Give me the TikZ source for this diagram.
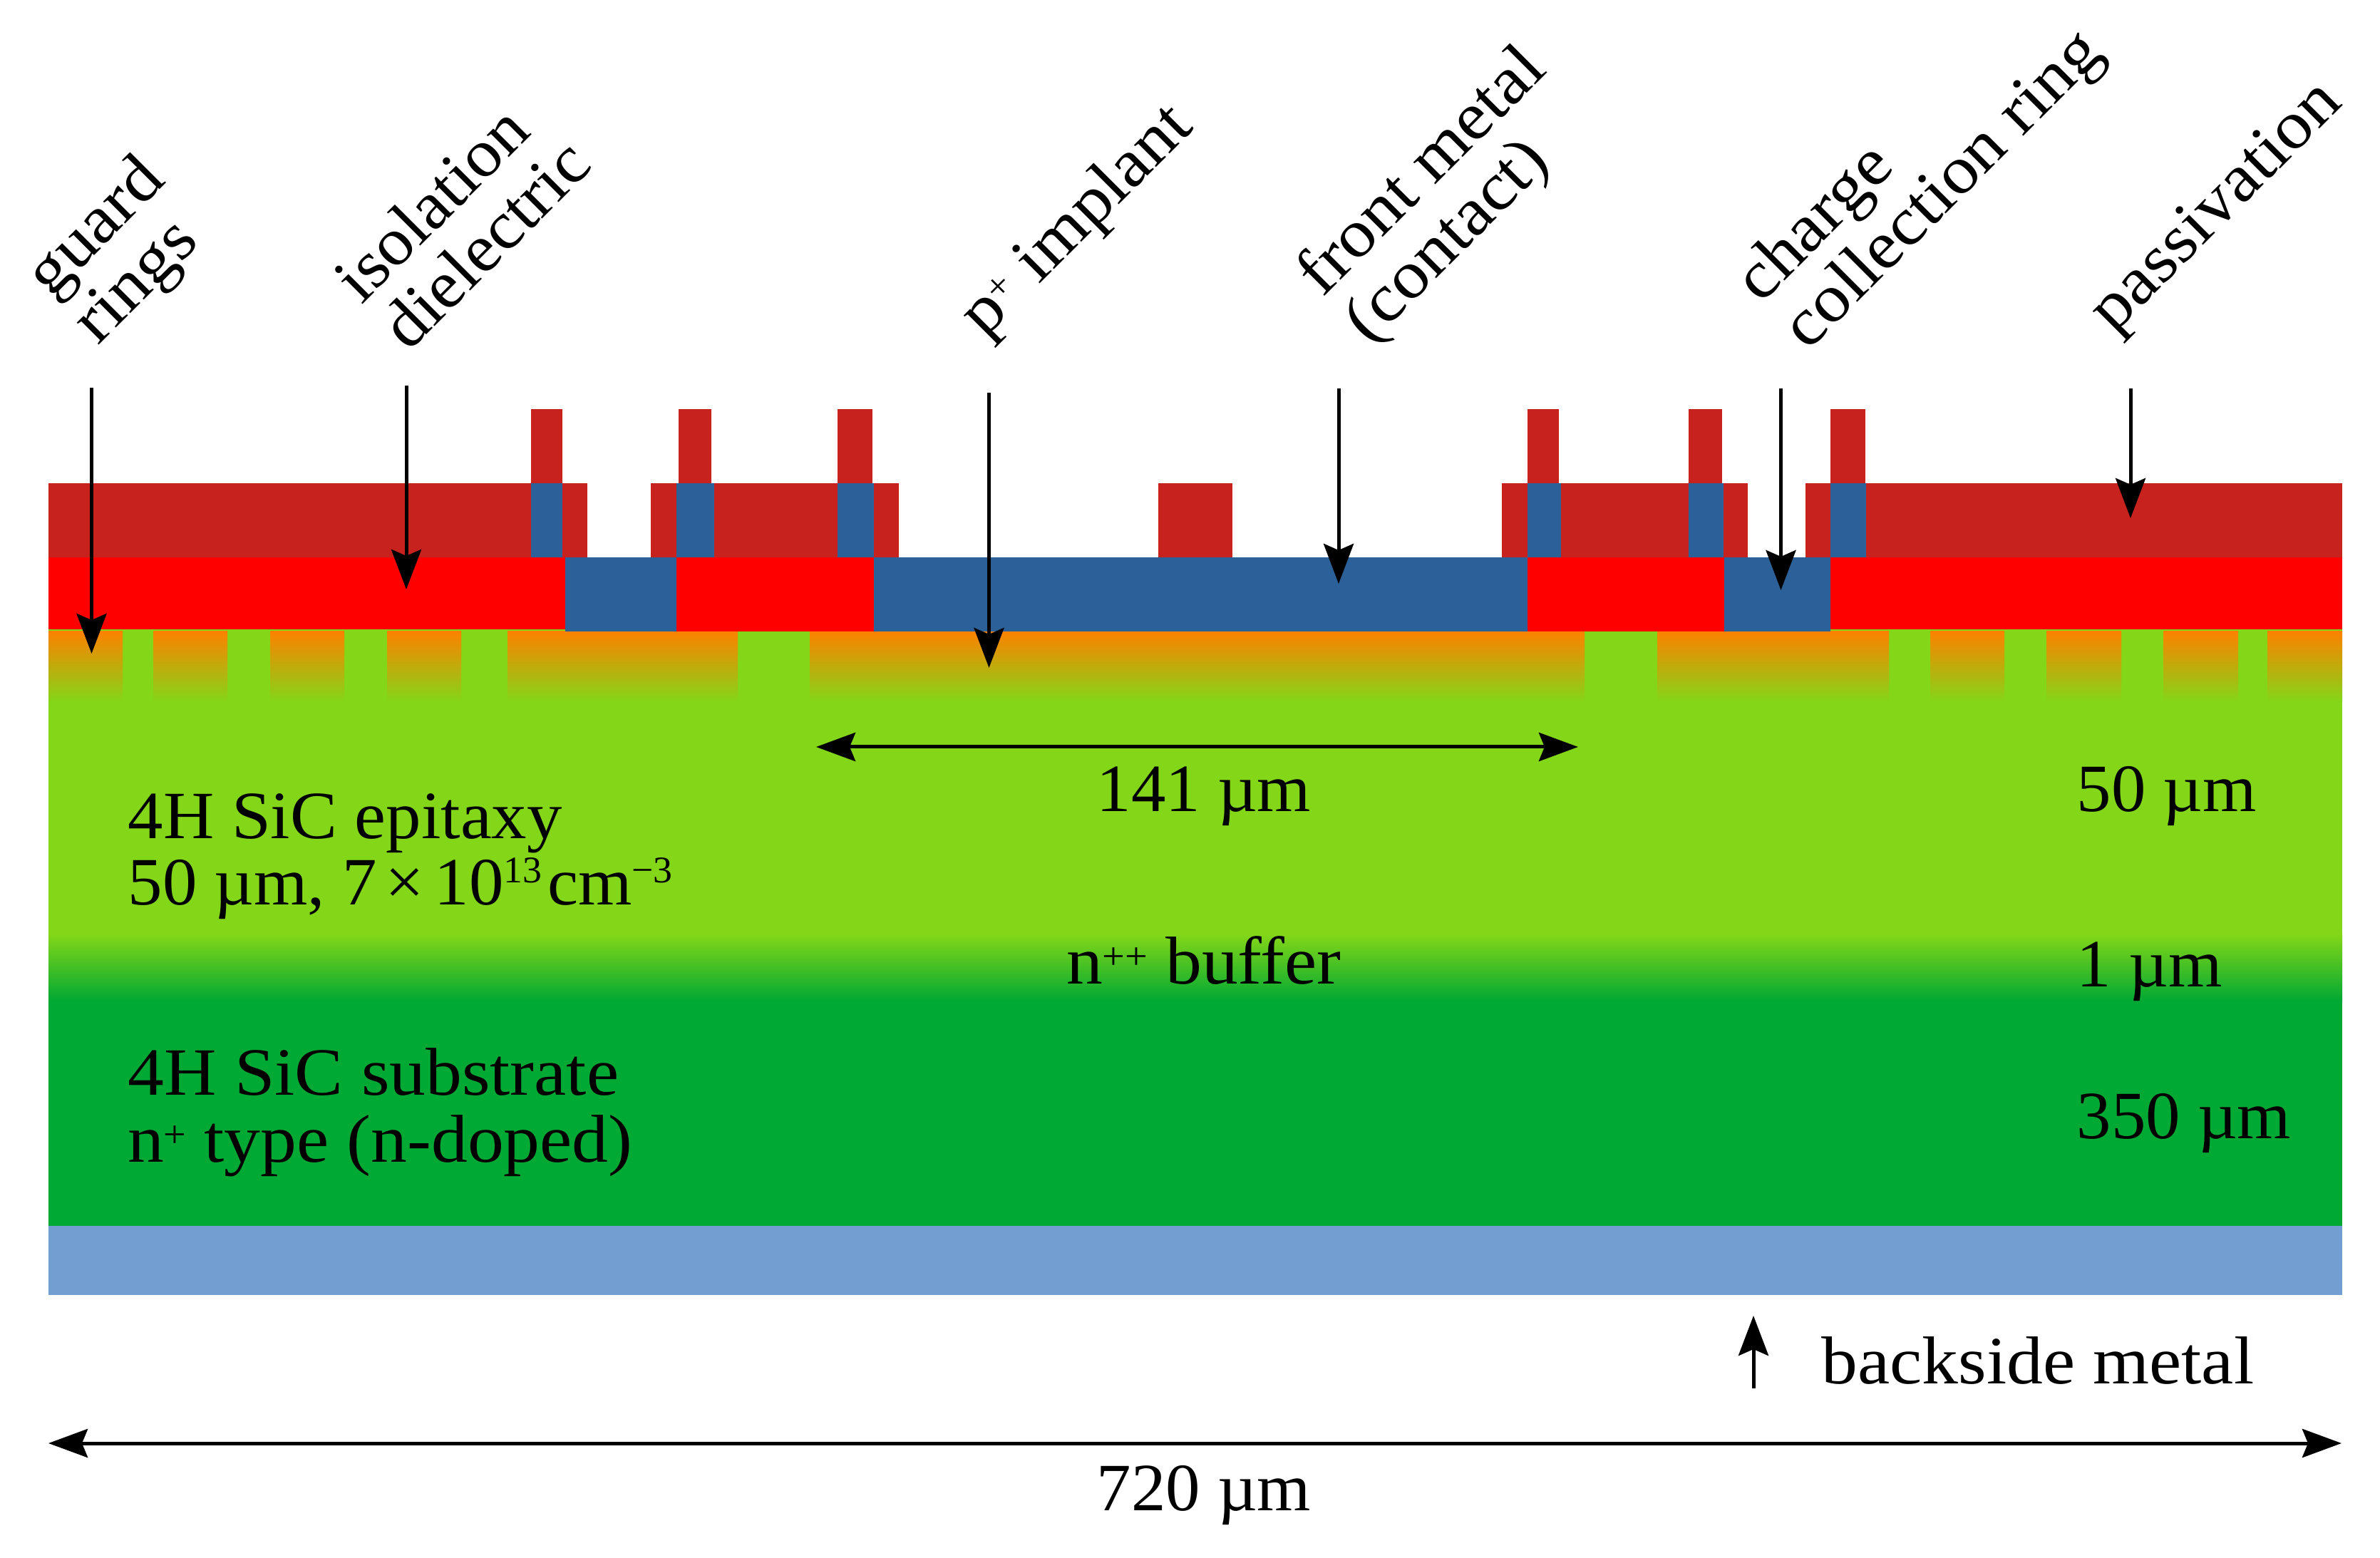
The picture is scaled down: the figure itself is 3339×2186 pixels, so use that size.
\documentclass[tikz,border=0pt]{standalone}
\usepackage{fontspec}
\setmainfont{Liberation Serif}[FakeStretch=1.07]
\newfontfamily\tightf{Liberation Serif}[FakeStretch=1.02]
\newfontfamily\midf{Liberation Serif}[FakeStretch=1.04]
\newcommand\mysup[1]{\raisebox{0.33em}{\fontsize{15}{15}\selectfont #1}}
\newcommand\myplus[1]{\raisebox{0.22em}{\fontsize{15}{15}\selectfont\kern-0.02em #1}}
\usetikzlibrary{arrows.meta}
\definecolor{lgreen}{RGB}{131,214,24}
\definecolor{dgreen}{RGB}{0,168,52}
\definecolor{mblue}{RGB}{43,96,152}
\definecolor{dred}{RGB}{200,34,30}
\definecolor{pred}{RGB}{255,0,0}
\definecolor{bmetal}{RGB}{114,158,209}
\definecolor{orng}{RGB}{252,130,0}
\tikzset{
  x=0.01cm,y=-0.01cm,
  lbl/.style={font=\fontsize{27}{26.7}\selectfont,inner sep=0pt,text=black,align=left},
  rlbl/.style={lbl,rotate=45,anchor=base west},
  hlbl/.style={lbl,anchor=base west},
  clbl/.style={lbl,anchor=base},
  pointer/.style={line width=0.05cm,-{Stealth[length=0.56cm,width=0.42cm,inset=0.09cm]}},
  span/.style={line width=0.05cm,{Stealth[length=0.55cm,width=0.40cm,inset=0.08cm]}-{Stealth[length=0.55cm,width=0.40cm,inset=0.08cm]}},
  implant/.style={top color=orng,bottom color=lgreen,draw=none}
}
\begin{document}
\begin{tikzpicture}
\useasboundingbox (0,0) rectangle (3339,2186);
% bulk layers
\fill[lgreen] (68,883) rectangle (3286,1312);
\shade[top color=lgreen,bottom color=dgreen] (68,1311) rectangle (3286,1405);
\fill[dgreen] (68,1404) rectangle (3286,1721);
\fill[bmetal] (68,1720) rectangle (3286,1817);
% implants
\foreach \a/\b in {68/172,215/319,379/483,543/647,712/1035,1136/2223,2325/2650,2708/2812,2871/2976,3035/3140,3181/3286}
  \shade[implant] (\a,886) rectangle (\b,985);
% isolation + front metal row
\fill[pred] (68,782) rectangle (793,883);
\fill[mblue] (793,782) rectangle (949,886);
\fill[pred] (949,782) rectangle (1226,886);
\fill[mblue] (1226,782) rectangle (2143,886);
\fill[pred] (2143,782) rectangle (2419,886);
\fill[mblue] (2419,782) rectangle (2568,886);
\fill[pred] (2568,782) rectangle (3286,883);
% passivation
\foreach \a/\b in {68/824,913/1261,1625/1729,2107/2452,2533/3286}
  \fill[dred] (\a,678) rectangle (\b,782);
% pillars
\foreach \a/\b in {745/789,952/998,1175/1224,2143/2187,2369/2416,2568/2617}
  \fill[dred] (\a,574) rectangle (\b,678);
% contact vias
\foreach \a/\b in {745/789,949/1002,1175/1226,2143/2190,2369/2418,2568/2618}
  \fill[mblue] (\a,678) rectangle (\b,782);
% labels
\node[rlbl] (guard) at (137,486) {guard\\rings};
\node[rlbl] (iso) at (573,495) {\midf isolation\\\midf dielectric};
\node[rlbl] (pplus) at (1381,476) {p\myplus{+} implant};
\node[rlbl] (front) at (1921,485) {front metal\\(contact)};
\node[rlbl] (charge) at (2536,494) {charge\\collection ring};
\node[rlbl] (pass) at (2965,470) {passivation};
\node[hlbl] (epi) at (179,1270) {\midf 4H SiC epitaxy\\\tightf 50 µm, 7\hspace{0.12em}×\hspace{0.16em}10\mysup{13}\hspace{0.08em}cm\mysup{−3}};
\node[hlbl] (sub) at (179,1630) {4H SiC substrate\\n\myplus{+} type (n-doped)};
\node[clbl] (w141) at (1689,1139) {\tightf 141 µm};
\node[clbl] (buf) at (1689,1380) {n\myplus{++} buffer};
\node[clbl] (w720) at (1689,2119) {\tightf 720 µm};
\node[hlbl] (t50) at (2913,1139) {\tightf 50 µm};
\node[hlbl] (t1) at (2913,1384) {\tightf 1 µm};
\node[hlbl] (t350) at (2913,1597) {\tightf 350 µm};
\node[hlbl] (back) at (2555,1941) {backside metal};
% arrow coordinates
\coordinate (a1s) at (128.5,544); \coordinate (a1e) at (128.5,917);
\coordinate (a2s) at (570,541);   \coordinate (a2e) at (570,827);
\coordinate (a3s) at (1387.5,551);\coordinate (a3e) at (1387.5,937);
\coordinate (a4s) at (1878,545);  \coordinate (a4e) at (1878,819);
\coordinate (a5s) at (2498.5,545);\coordinate (a5e) at (2498.5,828);
\coordinate (a6s) at (2989,545);  \coordinate (a6e) at (2989,727);
\coordinate (a7s) at (2460,1948); \coordinate (a7e) at (2460,1846);
\coordinate (b1) at (1145,1048);  \coordinate (b2) at (2214,1048);
\coordinate (c1) at (68,2025);    \coordinate (c2) at (3285,2025);
\draw[pointer] (a1s) -- (a1e);
\draw[pointer] (a2s) -- (a2e);
\draw[pointer] (a3s) -- (a3e);
\draw[pointer] (a4s) -- (a4e);
\draw[pointer] (a5s) -- (a5e);
\draw[pointer] (a6s) -- (a6e);
\draw[pointer] (a7s) -- (a7e);
\draw[span] (b1) -- (b2);
\draw[span] (c1) -- (c2);
\end{tikzpicture}
\end{document}
